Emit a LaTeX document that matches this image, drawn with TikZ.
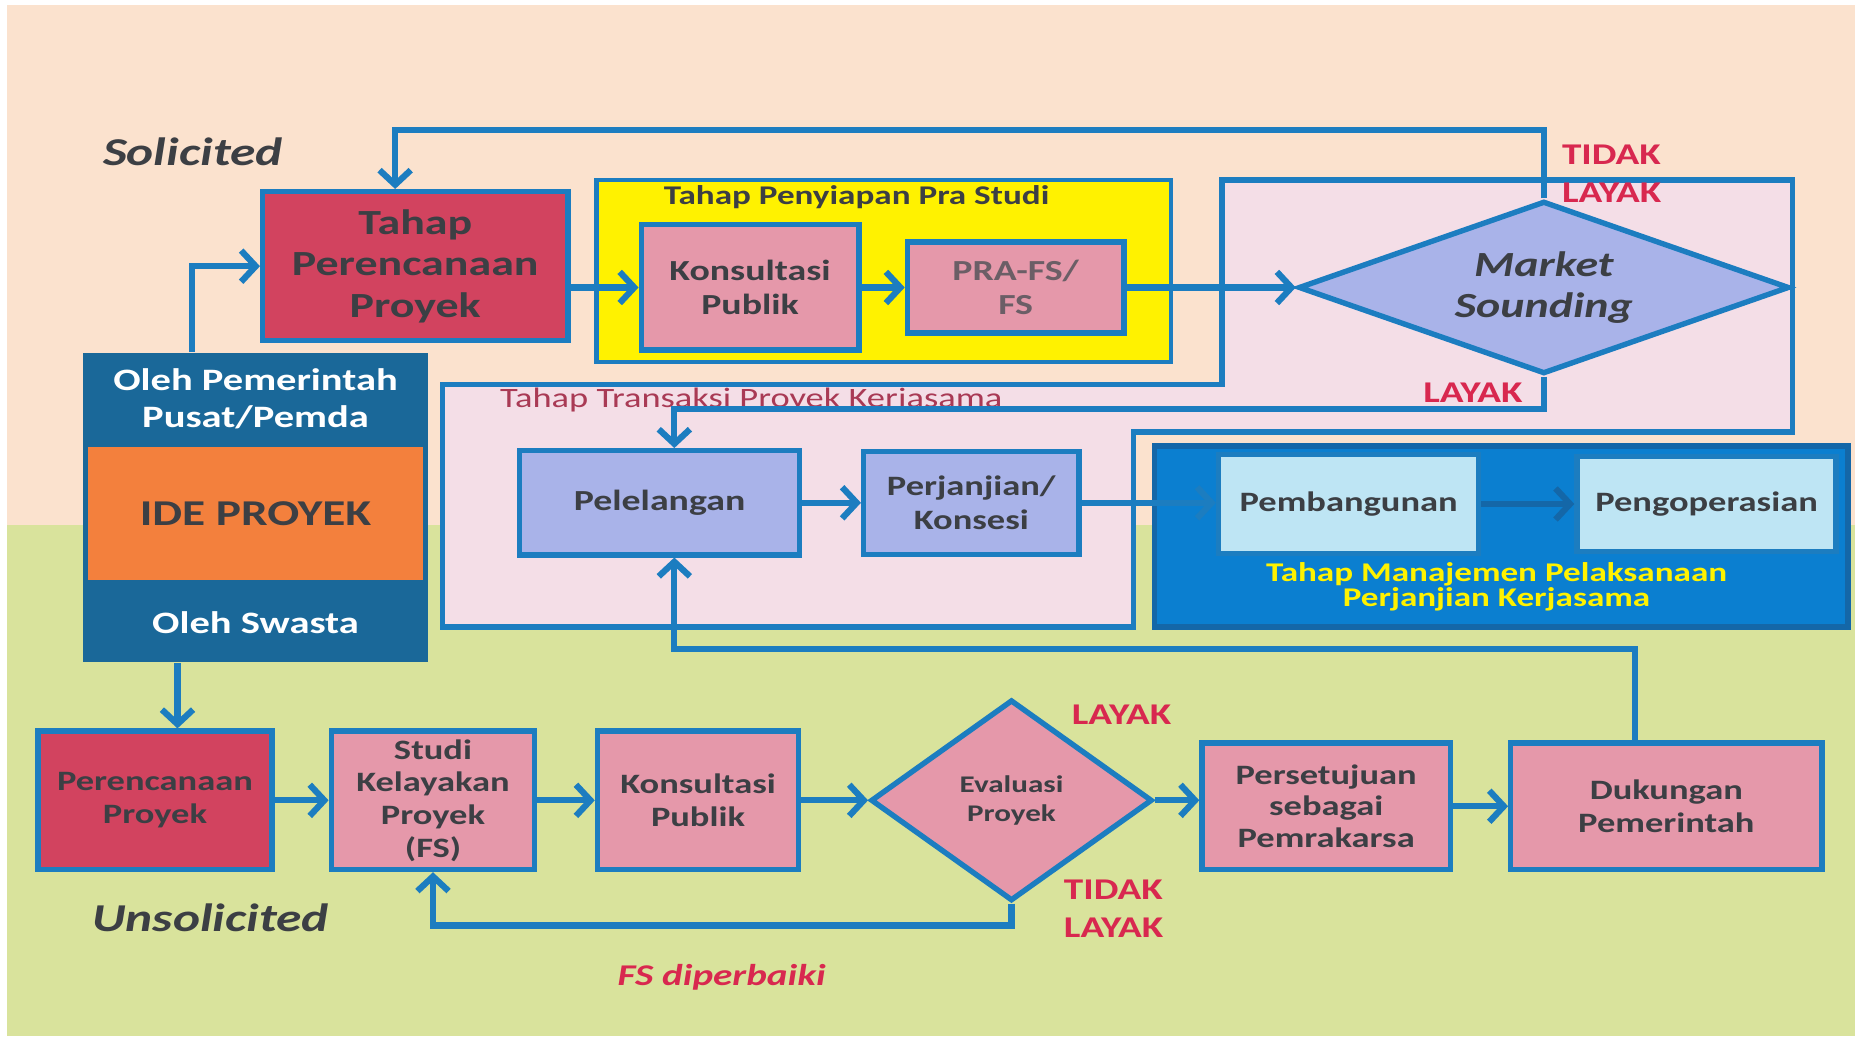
\documentclass[tikz,border=0pt]{standalone}
\usepackage{fontspec}
\setmainfont{Carlito}[FakeStretch=1.3]
\usetikzlibrary{shapes.geometric, arrows.meta, positioning}

\definecolor{peach}{HTML}{FBE2CE}
\definecolor{greenbg}{HTML}{D9E39C}
\definecolor{linebl}{HTML}{1C7DC0}
\definecolor{boxred}{HTML}{D2435F}
\definecolor{boxpink}{HTML}{E598AA}
\definecolor{boxlav}{HTML}{A9B3E9}
\definecolor{boxcyan}{HTML}{BEE5F4}
\definecolor{mgmtbl}{HTML}{0B7FD0}
\definecolor{mgmtln}{HTML}{1467A8}
\definecolor{colbl}{HTML}{1A6899}
\definecolor{ideorg}{HTML}{F3803D}
\definecolor{regpink}{HTML}{F4DEE7}
\definecolor{txtgray}{HTML}{3C3F44}
\definecolor{fsgray}{HTML}{6B5E66}
\definecolor{lblred}{HTML}{D8284F}
\definecolor{trred}{HTML}{A93A55}
\definecolor{ylwtxt}{HTML}{FFF200}

\newcommand{\fs}[2]{\fontsize{#1}{#2}\selectfont}

\begin{document}
\begin{tikzpicture}[x=0.02cm, y=-0.02cm]

% --- Define Styles ---
\tikzstyle{box} = [rectangle, draw=linebl, line width=2.6pt, text=txtgray, align=center, inner sep=0pt, font=\bfseries\fs{14}{16.5}]
\tikzstyle{redbox} = [box, fill=boxred]
\tikzstyle{pinkbox} = [box, fill=boxpink]
\tikzstyle{lavbox} = [box, fill=boxlav]
\tikzstyle{cyanbox} = [box, fill=boxcyan]
\tikzstyle{decision} = [diamond, draw=linebl, line width=2.6pt, text=txtgray, align=center, inner sep=0pt]
\tikzstyle{answer} = [text=lblred, font=\bfseries\fs{14.5}{18}, align=left, anchor=west, inner sep=0pt]
\tikzstyle{arrow} = [draw=linebl, line width=3pt, -{Straight Barb[length=7pt, width=15pt]}]

% --- Background ---
\useasboundingbox (0,0) rectangle (1568,876);
\fill[white] (0,0) rectangle (1568,876);
\fill[peach] (6,4) rectangle (1568,444);
\fill[greenbg] (6,444) rectangle (1568,876);

% --- Stage frames ---
\draw[fill=regpink, draw=linebl, line width=2.6pt] (374,325) -- (1033,325) -- (1033,152) -- (1515,152) -- (1515,365) -- (958,365) -- (958,530) -- (374,530) -- cycle;
\node (prastudi) [box, fill=yellow, line width=2.2pt, minimum width=9.72cm, minimum height=3.08cm] at (747,229) {};
\node (prastuditxt) [text=txtgray, font=\bfseries\fs{13}{15}] at (724,167) {Tahap Penyiapan Pra Studi};
\node (transtxt) [text=trred, font=\fs{13.5}{15}] at (635,338) {Tahap Transaksi Proyek Kerjasama};
\node (mgmt) [box, fill=mgmtbl, draw=mgmtln, minimum width=11.72cm, minimum height=3.06cm] at (1269,453.5) {};
\node (mgmttxt) [text=ylwtxt, font=\bfseries\fs{13}{12.5}, align=center] at (1265,496) {Tahap Manajemen Pelaksanaan\\Perjanjian Kerjasama};

% --- Idea column ---
\node (col) [rectangle, fill=colbl, minimum width=5.84cm, minimum height=5.24cm] at (216,429) {};
\node (ide) [rectangle, fill=ideorg, text=txtgray, font=\bfseries\fs{17.5}{20}, minimum width=5.68cm, minimum height=2.24cm] at (216,434) {IDE PROYEK};
\node (pemda) [text=white, font=\bfseries\fs{15}{17.6}, align=center] at (216,337) {Oleh Pemerintah\\Pusat/Pemda};
\node (swasta) [text=white, font=\bfseries\fs{15}{17.6}] at (216,526) {Oleh Swasta};

% --- Solicited nodes ---
\node (plan) [redbox, font=\bfseries\fs{17}{20}, minimum width=5.16cm, minimum height=2.52cm] at (351,225) {Tahap\\Perencanaan\\Proyek};
\node (konsul1) [pinkbox, minimum width=3.68cm, minimum height=2.12cm] at (634,243) {Konsultasi\\Publik};
\node (prafs) [pinkbox, text=fsgray, minimum width=3.66cm, minimum height=1.54cm] at (858.5,243) {PRA-FS/\\FS};
\node (market) [decision, fill=boxlav, font=\bfseries\itshape\fs{17}{20}, aspect=2.84, minimum width=8.3cm, minimum height=2.92cm] at (1305,243) {Market\\Sounding};
\node (lelang) [lavbox, minimum width=4.74cm, minimum height=1.76cm] at (557.5,425) {Pelelangan};
\node (janji) [lavbox, font=\bfseries\fs{13.5}{16}, minimum width=3.64cm, minimum height=1.74cm] at (821,425) {Perjanjian/\\Konsesi};
\node (bangun) [cyanbox, font=\bfseries\fs{13.5}{16}, minimum width=4.4cm, minimum height=1.68cm] at (1140,426) {Pembangunan};
\node (operasi) [cyanbox, font=\bfseries\fs{13.5}{16}, minimum width=4.38cm, minimum height=1.6cm] at (1442.5,426) {Pengoperasian};

% --- Unsolicited nodes ---
\node (rencana) [redbox, font=\bfseries\fs{13.5}{16}, minimum width=3.96cm, minimum height=2.34cm] at (131,676.5) {Perencanaan\\Proyek};
\node (studi) [pinkbox, font=\bfseries\fs{13.5}{15.7}, minimum width=3.44cm, minimum height=2.34cm] at (366,676.5) {Studi\\Kelayakan\\Proyek\\(FS)};
\node (konsul2) [pinkbox, font=\bfseries\fs{13.5}{16}, minimum width=3.4cm, minimum height=2.34cm] at (590,676.5) {Konsultasi\\Publik};
\node (eval) [decision, fill=boxpink, font=\bfseries\fs{11.5}{14}, aspect=1.4, minimum width=4.76cm, minimum height=3.4cm] at (855,676.5) {Evaluasi\\Proyek};
\node (setuju) [pinkbox, font=\bfseries\fs{13.5}{15.3}, minimum width=4.2cm, minimum height=2.14cm] at (1121,681.5) {Persetujuan\\sebagai\\Pemrakarsa};
\node (dukung) [pinkbox, font=\bfseries\fs{13.5}{16}, minimum width=5.26cm, minimum height=2.14cm] at (1408.5,681.5) {Dukungan\\Pemerintah};

% --- Labels ---
\node (sol) [text=txtgray, font=\bfseries\itshape\fs{19}{22}] at (163,128) {Solicited};
\node (unsol) [text=txtgray, font=\bfseries\itshape\fs{19}{22}] at (178,776) {Unsolicited};
\node (msno) [answer] at (1320,147) {TIDAK\\LAYAK};
\node (msyes) [answer, anchor=center] at (1245,332) {LAYAK};
\node (evyes) [answer, anchor=center] at (948,604) {LAYAK};
\node (evno) [answer] at (899,768) {TIDAK\\LAYAK};
\node (fsfix) [text=lblred, font=\bfseries\itshape\fs{14.5}{17}] at (610,826) {FS diperbaiki};

% --- Arrows ---
\draw [arrow] ([xshift=-1.08cm]col.north) |- (plan.west);
\draw [arrow] (plan.east |- konsul1.west) -- (konsul1.west);
\draw [arrow] (konsul1.east |- prafs.west) -- (prafs.west);
\draw [arrow] (prafs.east) -- (market.west);
\draw [arrow] (market.north) |- ([xshift=-0.34cm, yshift=1cm]plan.north) -- ([xshift=-0.34cm]plan.north);
\draw [arrow] (market.south) |- ([xshift=0.25cm, yshift=0.66cm]lelang.north) -- ([xshift=0.25cm]lelang.north);
\draw [arrow] (lelang.east) -- (lelang.east -| janji.west);
\draw [arrow] (janji.east) -- (janji.east -| bangun.west);
\draw [arrow, draw=mgmtln] (bangun.east) -- (bangun.east -| operasi.west);
\draw [arrow] ([xshift=-1.32cm]col.south) -- ([xshift=-1.32cm]col.south |- rencana.north);
\draw [arrow] (rencana.east) -- (rencana.east -| studi.west);
\draw [arrow] (studi.east) -- (studi.east -| konsul2.west);
\draw [arrow] (konsul2.east) -- (eval.west);
\draw [arrow] (eval.east) -- (eval.east -| setuju.west);
\draw [arrow] (setuju.east) -- (setuju.east -| dukung.west);
\draw [arrow] (eval.south) |- ([yshift=-0.9cm]studi.south) -- (studi.south);
\draw [arrow] ([xshift=-0.53cm]dukung.north) |- ([xshift=0.25cm, yshift=-1.54cm]lelang.south) -- ([xshift=0.25cm]lelang.south);

\end{tikzpicture}
\end{document}
